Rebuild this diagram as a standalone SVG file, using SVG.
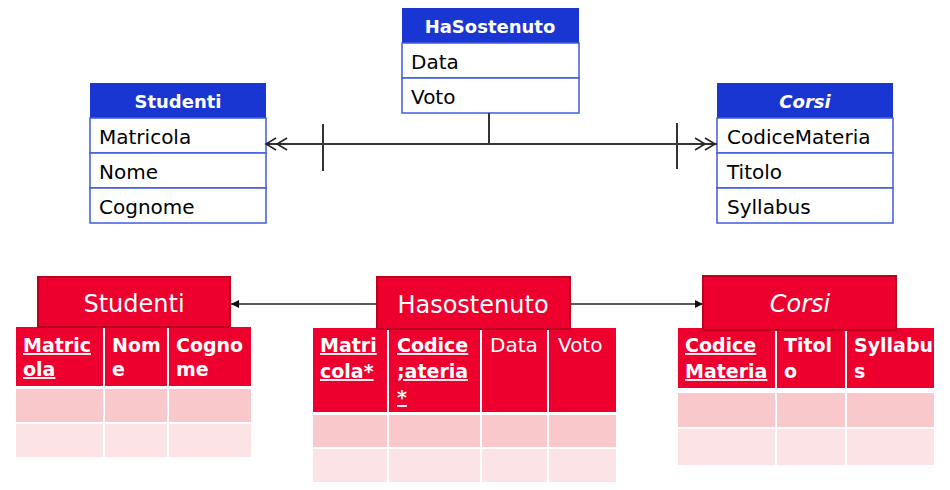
<svg xmlns="http://www.w3.org/2000/svg" width="950" height="490" viewBox="0 0 950 490">
<defs>
<style>
.bh{fill:#1a36d2;}
.bb{fill:#fff;stroke:#3f5cdc;stroke-width:1.5;}
.bt{font-family:"DejaVu Sans",sans-serif;font-weight:bold;font-size:18px;fill:#fff;text-anchor:middle;}
.rt{font-family:"DejaVu Sans",sans-serif;font-size:20px;fill:#000;}
.conn{stroke:#333;stroke-width:2;fill:none;}
.rh{fill:#ee002e;stroke:#b8001f;stroke-width:2;}
.rht{font-family:"DejaVu Sans",sans-serif;font-size:24px;fill:#fff;text-anchor:middle;}
.th{fill:#ee002e;stroke:#fff;stroke-width:2;}
.r1{fill:#f9c8ca;stroke:#fff;stroke-width:2;}
.r2{fill:#fce4e6;stroke:#fff;stroke-width:2;}
.ct{font-family:"DejaVu Sans",sans-serif;font-weight:bold;font-size:19px;fill:#fff;}
.cn{font-family:"DejaVu Sans",sans-serif;font-size:20px;fill:#fff;}
.u{text-decoration:underline;}
.ln{stroke:#222;stroke-width:1.5;fill:none;}
</style>
<marker id="fa" viewBox="0 0 10 10" refX="10" refY="5" markerWidth="8" markerHeight="8" markerUnits="userSpaceOnUse" orient="auto">
<path d="M0,0 L10,5 L0,10 z" fill="#111"/>
</marker>
</defs>
<rect width="950" height="490" fill="#fff"/>

<g id="er-studenti">
<rect class="bh" x="90" y="83" width="176" height="35"/>
<text class="bt" x="178" y="108">Studenti</text>
<rect class="bb" x="90" y="118" width="176" height="35"/>
<rect class="bb" x="90" y="153" width="176" height="35"/>
<rect class="bb" x="90" y="188" width="176" height="35"/>
<text class="rt" x="99" y="144">Matricola</text>
<text class="rt" x="99" y="179">Nome</text>
<text class="rt" x="99" y="214">Cognome</text>
</g>

<g id="er-hasostenuto">
<rect class="bh" x="402" y="8" width="177" height="35"/>
<text class="bt" x="490" y="33">HaSostenuto</text>
<rect class="bb" x="402" y="43" width="177" height="35"/>
<rect class="bb" x="402" y="78" width="177" height="35"/>
<text class="rt" x="411" y="69">Data</text>
<text class="rt" x="411" y="104">Voto</text>
</g>

<g id="er-corsi">
<rect class="bh" x="717" y="83" width="176" height="35"/>
<text class="bt" x="805" y="108" font-style="italic">Corsi</text>
<rect class="bb" x="717" y="118" width="176" height="35"/>
<rect class="bb" x="717" y="153" width="176" height="35"/>
<rect class="bb" x="717" y="188" width="176" height="35"/>
<text class="rt" x="727" y="144">CodiceMateria</text>
<text class="rt" x="727" y="179">Titolo</text>
<text class="rt" x="727" y="214">Syllabus</text>
</g>

<g id="connectors">
<line class="conn" x1="266" y1="144" x2="717" y2="144"/>
<line class="conn" x1="489" y1="113" x2="489" y2="144"/>
<line class="conn" x1="323" y1="124" x2="323" y2="171"/>
<line class="conn" x1="677" y1="123" x2="677" y2="169"/>
<path class="ln" d="M276,138 L266,144 L276,150 M287,138 L277,144 L287,150"/>
<path class="ln" d="M695,138 L705,144 L695,150 M705,138 L715,144 L705,150"/>
<line class="ln" x1="377" y1="304" x2="231" y2="304" marker-end="url(#fa)"/>
<line class="ln" x1="570" y1="304" x2="703" y2="304" marker-end="url(#fa)"/>
</g>

<g id="rel-studenti">
<rect class="th" x="15" y="326" width="89" height="61"/>
<rect class="th" x="104" y="326" width="64" height="61"/>
<rect class="th" x="168" y="326" width="84" height="61"/>
<rect class="r1" x="15" y="388" width="89" height="35"/>
<rect class="r1" x="104" y="388" width="64" height="35"/>
<rect class="r1" x="168" y="388" width="84" height="35"/>
<rect class="r2" x="15" y="423" width="89" height="35"/>
<rect class="r2" x="104" y="423" width="64" height="35"/>
<rect class="r2" x="168" y="423" width="84" height="35"/>
<rect class="rh" x="38" y="277" width="192" height="50"/>
<text class="rht" x="134" y="312">Studenti</text>
<text class="ct u" x="23" y="352">Matric</text>
<text class="ct u" x="23" y="376">ola</text>
<text class="ct" x="112" y="352">Nom</text>
<text class="ct" x="112" y="376">e</text>
<text class="ct" x="176" y="352">Cogno</text>
<text class="ct" x="176" y="376">me</text>
</g>

<g id="rel-hasostenuto">
<rect class="th" x="312" y="327" width="76" height="86"/>
<rect class="th" x="388" y="327" width="93" height="86"/>
<rect class="th" x="481" y="327" width="67" height="86"/>
<rect class="th" x="548" y="327" width="69" height="86"/>
<rect class="r1" x="312" y="414" width="76" height="34"/>
<rect class="r1" x="388" y="414" width="93" height="34"/>
<rect class="r1" x="481" y="414" width="67" height="34"/>
<rect class="r1" x="548" y="414" width="69" height="34"/>
<rect class="r2" x="312" y="448" width="76" height="35"/>
<rect class="r2" x="388" y="448" width="93" height="35"/>
<rect class="r2" x="481" y="448" width="67" height="35"/>
<rect class="r2" x="548" y="448" width="69" height="35"/>
<rect class="rh" x="377" y="277" width="193" height="52"/>
<text class="rht" x="473" y="313">Hasostenuto</text>
<text class="ct u" x="320" y="352">Matri</text>
<text class="ct u" x="320" y="378">cola*</text>
<text class="ct u" x="397" y="352">Codice</text>
<text class="ct u" x="397" y="378">;ateria</text>
<text class="ct u" x="397" y="404">*</text>
<text class="cn" x="490" y="352">Data</text>
<text class="cn" x="558" y="352">Voto</text>
</g>

<g id="rel-corsi">
<rect class="th" x="677" y="327" width="99" height="62"/>
<rect class="th" x="776" y="327" width="70" height="62"/>
<rect class="th" x="846" y="327" width="89" height="62"/>
<rect class="r1" x="677" y="392" width="99" height="36"/>
<rect class="r1" x="776" y="392" width="70" height="36"/>
<rect class="r1" x="846" y="392" width="89" height="36"/>
<rect class="r2" x="677" y="428" width="99" height="38"/>
<rect class="r2" x="776" y="428" width="70" height="38"/>
<rect class="r2" x="846" y="428" width="89" height="38"/>
<rect class="rh" x="703" y="276" width="193" height="54"/>
<text class="rht" x="800" y="312" font-style="italic">Corsi</text>
<text class="ct u" x="685" y="352">Codice</text>
<text class="ct u" x="685" y="378">Materia</text>
<text class="ct" x="784" y="352">Titol</text>
<text class="ct" x="784" y="378">o</text>
<text class="ct" x="854" y="352">Syllabu</text>
<text class="ct" x="854" y="378">s</text>
</g>
</svg>
